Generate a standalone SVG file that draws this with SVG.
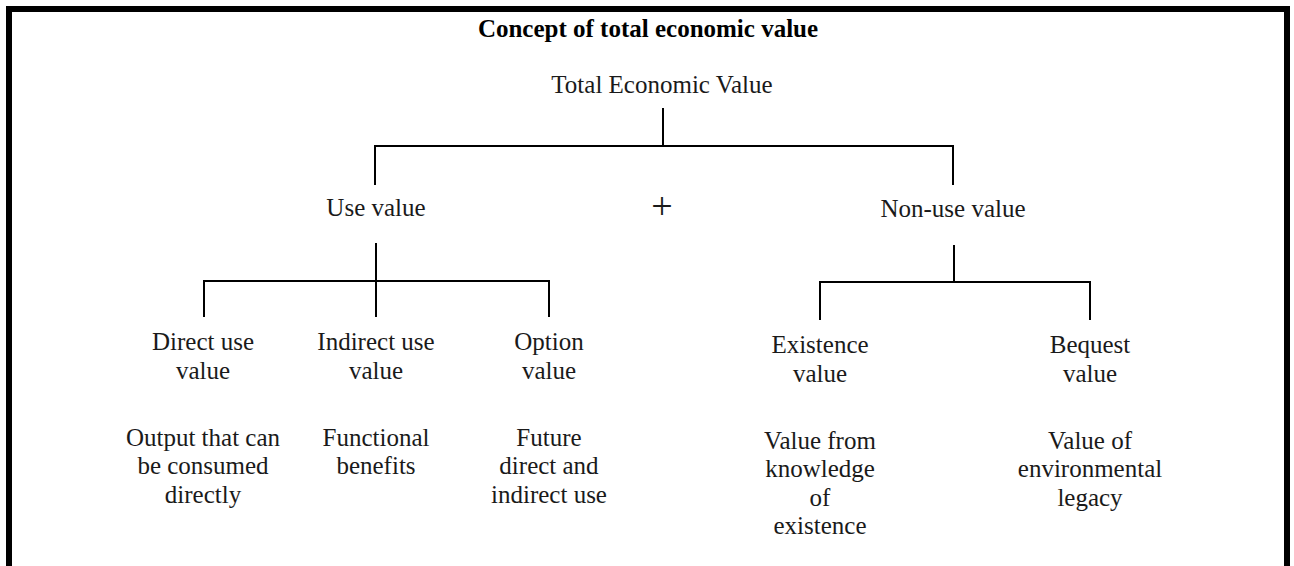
<svg xmlns="http://www.w3.org/2000/svg" width="1294" height="566" viewBox="0 0 1294 566">
<style>
.t{font-family:"Liberation Serif","Times New Roman",serif;font-size:25px;fill:#1a1a1a;text-anchor:middle}
.b{font-weight:bold;fill:#000}
.ln{stroke:#000;stroke-width:2;fill:none}
</style>
<rect x="0" y="0" width="1294" height="566" fill="#fff"/>
<g id="frame" fill="#000">
<rect x="6" y="6" width="1284" height="6"/>
<rect x="6" y="6" width="6" height="560"/>
<rect x="1284" y="6" width="6" height="560"/>
</g>
<text id="title" class="t b" x="648" y="37">Concept of total economic value</text>
<g id="connectors">
<path class="ln" d="M663 108V146M375 185V146H953V185"/>
<path class="ln" d="M376 243V317M204 317V281H549V317"/>
<path class="ln" d="M954 245V282M820 320V282H1090V320"/>
</g>
<g id="tev"><text class="t" x="662" y="93">Total Economic Value</text></g>
<g id="use"><text class="t" x="376" y="216">Use value</text></g>
<g id="plus"><text class="t" x="662" y="219" style="font-size:38px">+</text></g>
<g id="nonuse"><text class="t" x="953" y="217">Non-use value</text></g>
<g id="direct"><text class="t" x="203" y="350">Direct use</text><text class="t" x="203" y="379">value</text>
<text class="t" x="203" y="446">Output that can</text><text class="t" x="203" y="474">be consumed</text><text class="t" x="203" y="503">directly</text></g>
<g id="indirect"><text class="t" x="376" y="350">Indirect use</text><text class="t" x="376" y="379">value</text>
<text class="t" x="376" y="446">Functional</text><text class="t" x="376" y="474">benefits</text></g>
<g id="option"><text class="t" x="549" y="350">Option</text><text class="t" x="549" y="379">value</text>
<text class="t" x="549" y="446">Future</text><text class="t" x="549" y="474">direct and</text><text class="t" x="549" y="503">indirect use</text></g>
<g id="existence"><text class="t" x="820" y="353">Existence</text><text class="t" x="820" y="382">value</text>
<text class="t" x="820" y="449">Value from</text><text class="t" x="820" y="477">knowledge</text><text class="t" x="820" y="506">of</text><text class="t" x="820" y="534">existence</text></g>
<g id="bequest"><text class="t" x="1090" y="353">Bequest</text><text class="t" x="1090" y="382">value</text>
<text class="t" x="1090" y="449">Value of</text><text class="t" x="1090" y="477">environmental</text><text class="t" x="1090" y="506">legacy</text></g>
</svg>
